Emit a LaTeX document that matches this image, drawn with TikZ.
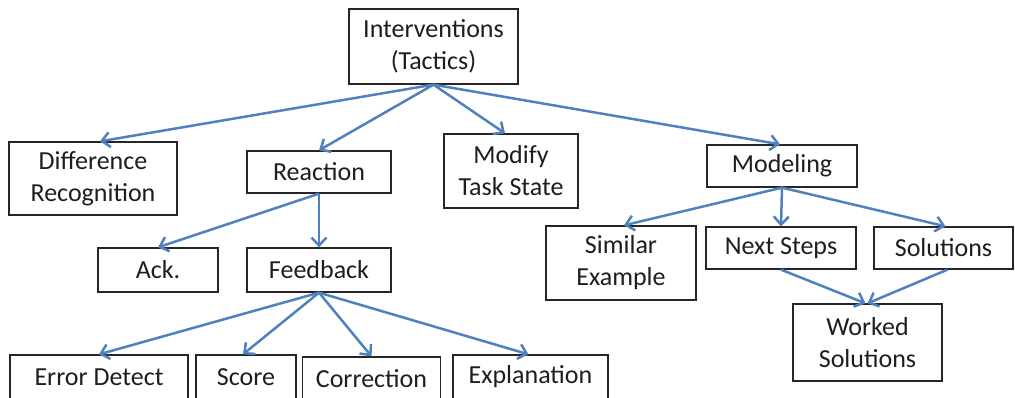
\documentclass[tikz,border=0pt]{standalone}
\usepackage{fontspec}
\setmainfont{Carlito}
\usetikzlibrary{arrows.meta}
\definecolor{arrowblue}{RGB}{79,129,189}
\definecolor{textgray}{RGB}{30,30,30}
\begin{document}
\begin{tikzpicture}[x=1pt,y=-1pt,
  box/.style={draw=black!85, line width=1.3pt, fill=white, inner sep=0pt,
    align=center, text=textgray, font=\fontsize{26}{32}\selectfont},
  conn/.style={draw=arrowblue, line width=2.5pt,
    -{Straight Barb[length=8pt,width=15pt,line width=2.5pt]}}]
\useasboundingbox (0,0) rectangle (1015,398);
% nodes
\node[box, minimum width=169pt, minimum height=75pt] (top) at (433.5,46.5) {Interventions\\(Tactics)};
\node[box, minimum width=168pt, minimum height=73pt] (diff) at (93,178.5) {Difference\\Recognition};
\node[box, minimum width=144pt, minimum height=42pt] (react) at (319,172) {Reaction};
\node[box, minimum width=134pt, minimum height=74pt] (modify) at (511,171) {Modify\\Task State};
\node[box, minimum width=150pt, minimum height=42pt] (model) at (782,166) {Modeling};
\node[box, minimum width=120pt, minimum height=44pt] (ack) at (158,270) {Ack.};
\node[box, minimum width=144pt, minimum height=44pt] (feed) at (319,270) {Feedback};
\node[box, minimum width=150pt, minimum height=74pt] (similar) at (621,263) {Similar\\Example};
\node[box, minimum width=150pt, minimum height=42pt] (next) at (781,248) {Next Steps};
\node[box, minimum width=139pt, minimum height=42pt] (sol) at (943.5,248) {Solutions};
\node[box, minimum width=149pt, minimum height=77pt] (worked) at (867.5,342.5) {Worked\\Solutions};
\node[box, minimum width=178pt, minimum height=44pt] (err) at (99,377) {Error Detect};
\node[box, minimum width=100pt, minimum height=44pt] (score) at (246,377) {Score};
\node[box, minimum width=138pt, minimum height=44pt] (corr) at (371.5,379) {Correction};
\node[box, minimum width=155pt, minimum height=44pt] (expl) at (530.5,377) {Explanation};
% connectors
\draw[conn] (top.south) -- ([xshift=7pt]diff.north);
\draw[conn] (top.south) -- (react.north);
\draw[conn] (top.south) -- ([xshift=-6pt]modify.north);
\draw[conn] (top.south) -- ([xshift=-2pt]model.north);
\draw[conn] (react.south) -- (feed.north);
\draw[conn] (react.south) -- (ack.north);
\draw[conn] (feed.south) -- (err.north);
\draw[conn] (feed.south) -- ([xshift=-3pt]score.north);
\draw[conn] (feed.south) -- (corr.north);
\draw[conn] (feed.south) -- ([xshift=-2pt]expl.north);
\draw[conn] (model.south) -- ([xshift=3pt]similar.north);
\draw[conn] (model.south) -- (next.north);
\draw[conn] (model.south) -- ([xshift=2pt]sol.north);
\draw[conn] (next.south) -- ([xshift=-2pt]worked.north);
\draw[conn] ([xshift=4pt]sol.south) -- (worked.north);
\end{tikzpicture}
\end{document}
